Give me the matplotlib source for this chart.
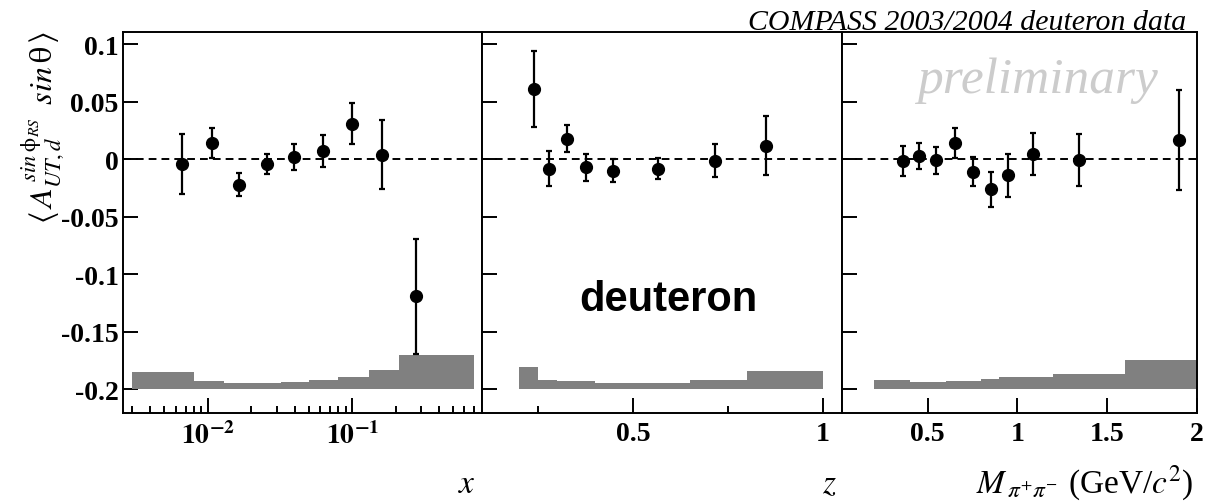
import numpy as np
import matplotlib
matplotlib.use("Agg")
import matplotlib.pyplot as plt
from matplotlib.ticker import FixedLocator, FixedFormatter, NullFormatter

plt.rcParams["mathtext.fontset"] = "stix"

# ---- asymmetry vs x ----
x_vals = [0.0066, 0.0107, 0.0165, 0.0255, 0.0395, 0.063, 0.100, 0.160, 0.277]
x_asym = [-0.004, 0.014, -0.022, -0.004, 0.002, 0.007, 0.031, 0.004, -0.119]
x_err = [0.026, 0.013, 0.010, 0.009, 0.011, 0.014, 0.018, 0.030, 0.050]
x_bin_edges = [0.003, 0.008, 0.013, 0.032, 0.05, 0.08, 0.13, 0.21, 0.7]
x_syst = [0.015, 0.0075, 0.0057, 0.0066, 0.0078, 0.0107, 0.017, 0.030]

# ---- asymmetry vs z ----
z_vals = [0.238, 0.278, 0.325, 0.375, 0.447, 0.567, 0.715, 0.851]
z_asym = [0.061, -0.008, 0.018, -0.007, -0.010, -0.008, -0.001, 0.012]
z_err = [0.033, 0.015, 0.012, 0.012, 0.010, 0.0094, 0.014, 0.026]
z_bin_edges = [0.2, 0.25, 0.3, 0.35, 0.4, 0.5, 0.65, 0.8, 1.0]
z_syst = [0.0197, 0.0086, 0.0072, 0.0072, 0.0057, 0.0057, 0.0081, 0.016]

# ---- asymmetry vs invariant mass ----
m_vals = [0.362, 0.453, 0.548, 0.651, 0.751, 0.851, 0.950, 1.087, 1.345, 1.901]
m_asym = [-0.0015, 0.003, -0.0006, 0.0145, -0.0107, -0.026, -0.014, 0.0046, -0.0006, 0.017]
m_err = [0.0133, 0.0112, 0.0118, 0.0132, 0.0125, 0.0154, 0.019, 0.0182, 0.0224, 0.0437]
m_bin_edges = [0.2, 0.4, 0.6, 0.8, 0.9, 1.0, 1.2, 1.6, 2.0]
m_syst = [0.0078, 0.0064, 0.0073, 0.0092, 0.011, 0.0104, 0.0136, 0.026]

y_ticks = [-0.2, -0.15, -0.1, -0.05, 0.0, 0.05, 0.1]
y_tick_labels = ["-0.2", "-0.15", "-0.1", "-0.05", "0", "0.05", "0.1"]
syst_base = -0.2

W, H = 1214, 502
fig = plt.figure(figsize=(W / 100, H / 100), dpi=100)


def px_axes(x0, x1, y0=33.3, y1=414.0):
    return fig.add_axes([x0 / W, 1 - y1 / H, (x1 - x0) / W, (y1 - y0) / H])


ax1 = px_axes(122.7, 481.5)
ax2 = px_axes(481.5, 841.5)
ax3 = px_axes(841.5, 1196.7)

serif = "Liberation Serif"
tick_font = dict(family=serif, weight="bold", size=20)

panels = [
    (ax1, x_vals, x_asym, x_err, x_bin_edges, x_syst),
    (ax2, z_vals, z_asym, z_err, z_bin_edges, z_syst),
    (ax3, m_vals, m_asym, m_err, m_bin_edges, m_syst),
]

for ax, vals, asym, err, edges, syst in panels:
    ax.set_ylim(-0.2205, 0.1105)
    ax.axhline(0, color="black", lw=1.4, ls=(0, (4, 2.6)), zorder=1)
    edges = np.asarray(edges)
    ax.bar(edges[:-1], syst, width=np.diff(edges), bottom=syst_base,
           align="edge", color="#808080", lw=0, zorder=2)
    ax.errorbar(vals, asym, yerr=err, fmt="o", color="black", ms=8.5,
                elinewidth=1.6, capsize=2.3, capthick=1.6, zorder=3)
    for s in ax.spines.values():
        s.set_linewidth(1.4)
    ax.tick_params(which="both", direction="in", top=False, right=False,
                   width=1.4, colors="black")
    ax.tick_params(which="major", length=10.5)
    ax.tick_params(which="minor", length=5.2)
    ax.tick_params(axis="x", which="both", pad=6.0)
    ax.tick_params(axis="y", which="both", pad=3.0)
    ax.yaxis.set_major_locator(FixedLocator(y_ticks))
    ax.yaxis.set_minor_locator(FixedLocator([]))

# y tick labels only on the leftmost panel
ax1.yaxis.set_major_formatter(FixedFormatter(y_tick_labels))
for lab in ax1.get_yticklabels():
    lab.set_fontproperties(tick_font)
ax2.yaxis.set_major_formatter(NullFormatter())
ax3.yaxis.set_major_formatter(NullFormatter())

# x panel: logarithmic
ax1.set_xscale("log")
ax1.set_xlim(0.00257, 0.787)
ax1.xaxis.set_major_locator(FixedLocator([0.01, 0.1]))
ax1.xaxis.set_major_formatter(FixedFormatter([r"$\mathbf{10^{-2}}$", r"$\mathbf{10^{-1}}$"]))
minor_x = [m * 1e-3 for m in range(3, 10)] + [m * 1e-2 for m in range(2, 10)] + \
          [m * 1e-1 for m in range(2, 8)]
ax1.xaxis.set_minor_locator(FixedLocator(minor_x))
ax1.xaxis.set_minor_formatter(NullFormatter())
for lab in ax1.get_xticklabels():
    lab.set_fontsize(20)

# z panel
ax2.set_xlim(0.1, 1.05)
ax2.xaxis.set_major_locator(FixedLocator([0.5, 1.0]))
ax2.xaxis.set_major_formatter(FixedFormatter(["0.5", "1"]))
ax2.xaxis.set_minor_locator(FixedLocator([0.25, 0.75]))
ax2.xaxis.set_minor_formatter(NullFormatter())
for lab in ax2.get_xticklabels():
    lab.set_fontproperties(tick_font)

# mass panel
ax3.set_xlim(0.02, 2.0)
ax3.xaxis.set_major_locator(FixedLocator([0.5, 1.0, 1.5, 2.0]))
ax3.xaxis.set_major_formatter(FixedFormatter(["0.5", "1", "1.5", "2"]))
ax3.xaxis.set_minor_locator(FixedLocator([]))
for lab in ax3.get_xticklabels():
    lab.set_fontproperties(tick_font)

# axis titles
lab_y = -0.2075
ax1.text(0.985, lab_y, r"$x$", transform=ax1.transAxes, ha="right",
         va="baseline", fontsize=24)
ax2.text(0.987, lab_y, r"$z$", transform=ax2.transAxes, ha="right",
         va="baseline", fontsize=24)
ax3.text(0.99, lab_y, r"$M_{\,\pi^{+}\pi^{-}}$ (GeV/$c^{2}$)", transform=ax3.transAxes,
         ha="right", va="baseline", fontsize=24, family=serif)

fig.text(43 / W, 1 - 31 / H,
         r"$\langle\,A_{UT,d}^{\,sin\;\mathrm{\phi}_{RS}}\;\; sin\,\mathrm{\theta}\,\rangle$",
         rotation=90, ha="center", va="top", fontsize=23)

# annotations
fig.text(1186 / W, 1 - 30 / H, "COMPASS 2003/2004 deuteron data",
         ha="right", va="baseline", family=serif, style="italic", fontsize=21.5)
ax3.text(0.891, 0.059, "preliminary", transform=ax3.get_yaxis_transform(),
         ha="right", va="baseline", family=serif, style="italic",
         fontsize=37, color="#cccccc", zorder=0)
ax2.text(0.594, -0.1313, "deuteron", ha="center", va="baseline",
         family="Liberation Sans", weight="bold", fontsize=30)

fig.savefig("out.png", dpi=100)
